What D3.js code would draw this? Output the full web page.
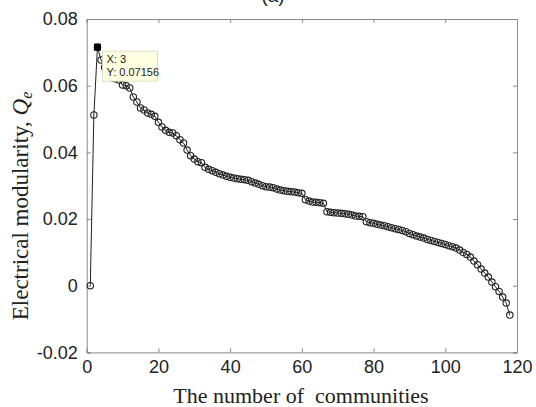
<!DOCTYPE html>
<html>
<head>
<meta charset="utf-8">
<script src="https://cdn.jsdelivr.net/npm/d3@7"></script>
<style>
  body { margin: 0; background: #fff; }
  svg { display: block; }
</style>
</head>
<body>
<div id="chart"></div>
<script>
const svgWidth = 536;
const svgHeight = 407;

// modularity for each number of communities (1..118)
const modularity = [
  0.0000, 0.0512, 0.07156, 0.0677, 0.0655, 0.0628, 0.0624, 0.0621, 0.0617, 0.0602,
  0.0600, 0.0593, 0.0566, 0.0551, 0.0533, 0.0527, 0.0518, 0.0514, 0.0508, 0.0490,
  0.0476, 0.0466, 0.0460, 0.0458, 0.0450, 0.0438, 0.0428, 0.0407, 0.0390, 0.0380,
  0.0372, 0.0369, 0.0355, 0.0349, 0.0345, 0.0340, 0.0336, 0.0332, 0.0328, 0.0325,
  0.0323, 0.0321, 0.0319, 0.0318, 0.0316, 0.0312, 0.0308, 0.0304, 0.0300, 0.0297,
  0.0296, 0.0294, 0.0290, 0.0287, 0.0285, 0.0283, 0.0282, 0.0281, 0.0279, 0.0277,
  0.0258, 0.0254, 0.0251, 0.0250, 0.0249, 0.0247, 0.0222, 0.0220, 0.0219, 0.0218,
  0.0217, 0.0216, 0.0214, 0.0212, 0.0209, 0.0208, 0.0207, 0.0192, 0.0189, 0.0187,
  0.0184, 0.0182, 0.0180, 0.0177, 0.0174, 0.0171, 0.0169, 0.0166, 0.0162, 0.0157,
  0.0153, 0.0149, 0.0146, 0.0143, 0.0139, 0.0136, 0.0133, 0.0130, 0.0127, 0.0124,
  0.0120, 0.0117, 0.0113, 0.0107, 0.0100, 0.0094, 0.0086, 0.0074, 0.0063, 0.0050,
  0.0038, 0.0026, 0.0011, -0.0003, -0.0017, -0.0034, -0.0052, -0.0088
];
const communities = modularity.map((_, i) => i + 1);

const xTicks = [0, 20, 40, 60, 80, 100, 120];
const yTicks = [-0.02, 0, 0.02, 0.04, 0.06, 0.08];
const yTickLabels = ["-0.02", "0", "0.02", "0.04", "0.06", "0.08"];

const tipIndex = 2; // datatip on X = 3

const plot = {left: 86.7, right: 517, top: 19, bottom: 352.4};

const x = d3.scaleLinear().domain([0, 120]).range([plot.left, plot.right]);
const y = d3.scaleLinear().domain([-0.02, 0.08]).range([plot.bottom, plot.top]);

const svg = d3.select("#chart")
    .append("svg")
    .attr("width", svgWidth)
    .attr("height", svgHeight);

const axisColor = "#8a8a8a";
const tickFont = "'Liberation Sans', Arial, sans-serif";
const labelFont = "'Liberation Serif', 'Times New Roman', serif";

// title fragment, mostly cut off at the top (as in the source figure)
svg.append("text")
    .attr("x", 273)
    .attr("y", 2)
    .attr("text-anchor", "middle")
    .attr("font-family", tickFont)
    .attr("font-size", "19px")
    .attr("fill", "#222")
    .text("(a)");

// axes with inward ticks on all four sides
const bottomAxis = svg.append("g")
    .attr("transform", `translate(0,${plot.bottom})`)
    .call(d3.axisBottom(x).tickValues(xTicks).tickSize(-4).tickPadding(10).tickFormat(d3.format("d")));
const topAxis = svg.append("g")
    .attr("transform", `translate(0,${plot.top})`)
    .call(d3.axisTop(x).tickValues(xTicks).tickSize(-4).tickFormat(""));
const leftAxis = svg.append("g")
    .attr("transform", `translate(${plot.left},0)`)
    .call(d3.axisLeft(y).tickValues(yTicks).tickSize(-4).tickPadding(9)
        .tickFormat((d, i) => yTickLabels[i]));
const rightAxis = svg.append("g")
    .attr("transform", `translate(${plot.right},0)`)
    .call(d3.axisRight(y).tickValues(yTicks).tickSize(-4).tickFormat(""));

[bottomAxis, topAxis, leftAxis, rightAxis].forEach(g => {
    g.select(".domain").attr("stroke", axisColor).attr("stroke-width", 1);
    g.selectAll(".tick line").attr("stroke", axisColor);
    g.selectAll("text")
        .attr("font-family", tickFont)
        .attr("font-size", "18px")
        .attr("fill", "#222");
});
bottomAxis.selectAll("text").attr("dy", "0.71em").attr("y", 8);

// line + open circle markers
const line = d3.line()
    .x((d, i) => x(communities[i]))
    .y(d => y(d));

svg.append("path")
    .datum(modularity)
    .attr("d", line)
    .attr("fill", "none")
    .attr("stroke", "#222")
    .attr("stroke-width", 1);

svg.append("g")
    .selectAll("circle")
    .data(modularity)
    .join("circle")
    .attr("cx", (d, i) => x(communities[i]))
    .attr("cy", d => y(d))
    .attr("r", 3.2)
    .attr("fill", "none")
    .attr("stroke", "#222")
    .attr("stroke-width", 1.1);

// datatip
const tx = x(communities[tipIndex]);
const ty = y(modularity[tipIndex]);

svg.append("rect")
    .attr("x", tx - 3.5)
    .attr("y", ty - 3.5)
    .attr("width", 7)
    .attr("height", 7)
    .attr("fill", "#000");

const tip = svg.append("g").attr("transform", `translate(${tx + 5},${ty + 4})`);
tip.append("rect")
    .attr("width", 55)
    .attr("height", 30)
    .attr("fill", "#ffffe1")
    .attr("stroke", "#d8d8c0")
    .attr("stroke-width", 0.8);
tip.append("text")
    .attr("x", 4)
    .attr("y", 12)
    .attr("font-family", tickFont)
    .attr("font-size", "11px")
    .attr("fill", "#222")
    .text(`X: ${communities[tipIndex]}`);
tip.append("text")
    .attr("x", 4)
    .attr("y", 25)
    .attr("font-family", tickFont)
    .attr("font-size", "11px")
    .attr("fill", "#222")
    .text(`Y: ${modularity[tipIndex]}`);

// axis labels
svg.append("text")
    .attr("x", 301)
    .attr("y", 403)
    .attr("text-anchor", "middle")
    .attr("font-family", labelFont)
    .attr("font-size", "22px")
    .attr("fill", "#222")
    .style("white-space", "pre")
    .text("The number of  communities");

const yLabel = svg.append("text")
    .attr("transform", `translate(28,206) rotate(-90)`)
    .attr("text-anchor", "middle")
    .attr("font-family", labelFont)
    .attr("font-size", "23px")
    .attr("fill", "#222");
yLabel.append("tspan").text("Electrical modularity, ");
yLabel.append("tspan").attr("font-style", "italic").text("Q");
yLabel.append("tspan").attr("font-style", "italic").attr("font-size", "16px").attr("dy", 4).text("e");
</script>
</body>
</html>
